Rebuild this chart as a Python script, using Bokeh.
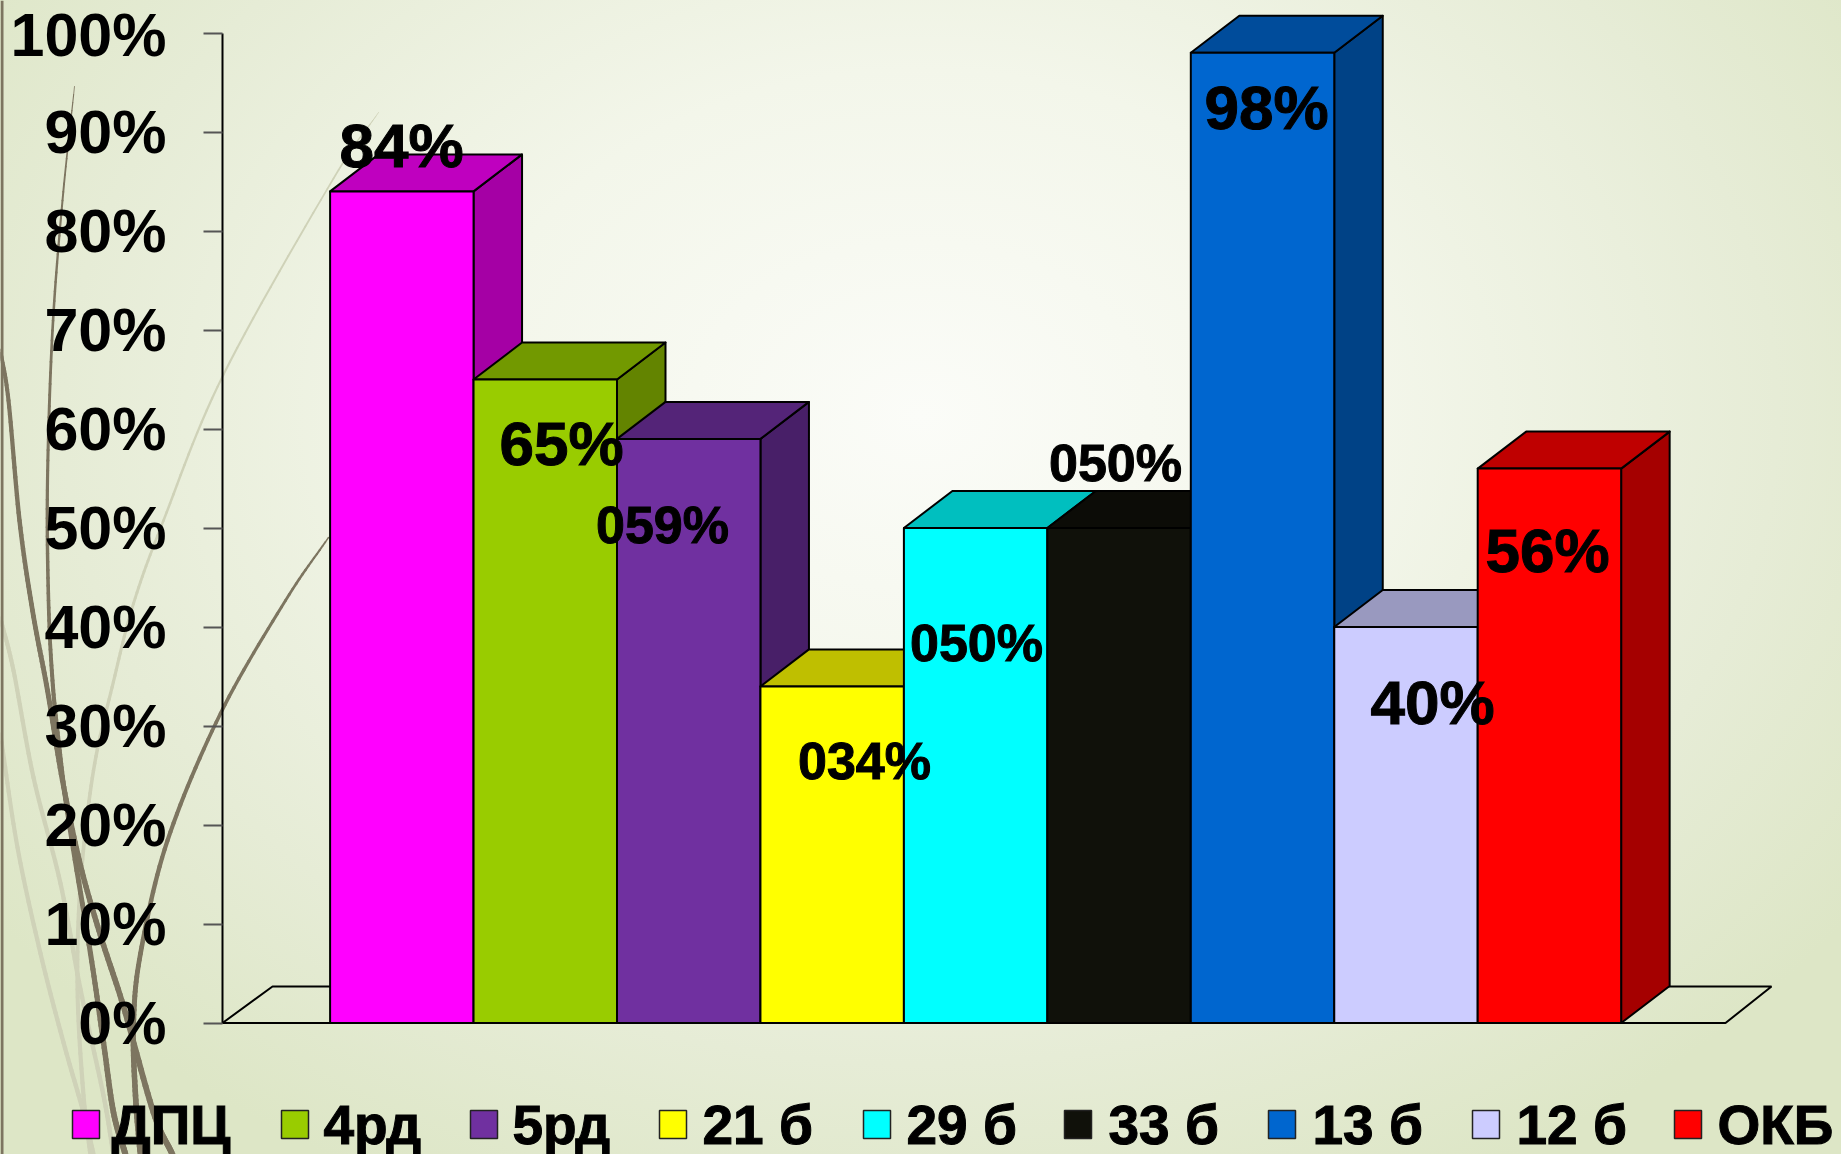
import numpy as np
from bokeh.core.properties import value
from bokeh.embed import file_html
from bokeh.models import FixedTicker, LinearAxis, PrintfTickFormatter, Range1d
from bokeh.plotting import figure
from bokeh.resources import INLINE

# ---- data ----
categories = ["ДПЦ", "4рд", "5рд", "21 б", "29 б", "33 б", "13 б", "12 б", "ОКБ"]
values = [84, 65, 59, 34, 50, 50, 98, 40, 56]
bar_labels = ["84%", "65%", "059%", "034%", "050%", "050%", "98%", "40%", "56%"]
y_ticks = [0, 10, 20, 30, 40, 50, 60, 70, 80, 90, 100]

# ---- styles ----
front_colors = ["#ff00ff", "#99cc00", "#7030a0", "#ffff00", "#00ffff", "#10110a", "#0066cf", "#ccccff", "#ff0000"]
label_sizes = [62, 62, 52, 52, 52, 52, 62, 62, 62]
label_x = [401, 561, 662, 864, 976, 1115, 1266, 1432, 1547]
label_y = [145, 443, 524, 760, 642, 462, 107, 702, 550]
swatch_x = [72, 281, 470, 659, 863, 1064, 1268, 1472, 1674]
legend_x = [111, 323, 512, 702, 906, 1108, 1312, 1516, 1717]

W, H = 1841, 1154
X0, BW = 329.6, 143.45      # px of first bar's left edge, px per bar
Y0, YU = 1022.5, 9.9        # px of 0%, px per 1%
DX, DY = 48.5 / BW, 37.0 / YU

p = figure(width=W, height=H, output_backend="svg", toolbar_location=None,
           x_range=Range1d(-X0 / BW, (W - X0) / BW),
           y_range=Range1d(-(H - Y0) / YU, Y0 / YU),
           min_border=0, outline_line_color=None,
           background_fill_alpha=0, border_fill_alpha=0,
           y_axis_location=None, x_axis_location=None,
           styles={"position": "fixed", "left": "0", "top": "0",
                   "background": "radial-gradient(ellipse 62% 75% at 50% 36%, #fbfcf8 0%, #f3f6ea 40%, #e6ecd6 75%, #dde6c6 100%)"})
p.grid.visible = False
p.extra_x_ranges["px"] = Range1d(0, W)
p.extra_y_ranges["px"] = Range1d(H, 0)


def smooth(pts, n=14):
    pts = np.array(pts, float)
    q = np.vstack([2 * pts[0] - pts[1], pts, 2 * pts[-1] - pts[-2]])
    out = []
    for i in range(1, len(q) - 2):
        a, b, c, d = q[i - 1], q[i], q[i + 1], q[i + 2]
        for t in np.linspace(0, 1, n, endpoint=False):
            out.append(0.5 * (2 * b + (c - a) * t + (2 * a - 5 * b + 4 * c - d) * t ** 2 + (3 * b - a - 3 * c + d) * t ** 3))
    out.append(q[-2])
    return np.array(out)


def grass(pts, color, w0, w1):
    s = smooth(pts)
    xs = [list(s[i:i + 2, 0]) for i in range(len(s) - 1)]
    ys = [list(s[i:i + 2, 1]) for i in range(len(s) - 1)]
    widths = list(w0 + (w1 - w0) * np.linspace(0, 1, len(xs)) ** 0.6)
    p.multi_line(xs, ys, line_color=color, line_width=widths, line_cap="round",
                 x_range_name="px", y_range_name="px")


BROWN, PALE = "#7d7560", "#cfd2b8"
pale_curves = [
    [(378, 112), (333, 178), (223, 374), (163, 520), (133, 603), (113, 681), (93, 770), (80, 883), (77, 989), (83, 1095), (90, 1154)],
    [(0, 618), (13, 670), (33, 777), (60, 883), (80, 989), (103, 1095), (113, 1154)],
    [(0, 734), (17, 847), (40, 953), (63, 1042), (83, 1112), (93, 1154)],
]
grass(pale_curves[0], PALE, 0.8, 4.5)
grass(pale_curves[1], PALE, 4, 4.5)
grass(pale_curves[2], PALE, 4, 4.5)
brown_curves = [
    [(74, 86), (62, 200), (52, 330), (47, 480), (48, 600), (52, 680), (58, 741), (67, 812), (90, 953), (103, 1042), (113, 1112), (125, 1154)],
    [(0, 350), (8, 400), (19, 520), (32, 610), (47, 690), (62, 780), (80, 865), (100, 935), (123, 1006), (153, 1112), (172, 1154)],
    [(328, 537), (285, 600), (220, 713), (167, 840), (140, 953), (133, 1024), (135, 1095), (140, 1154)],
]
grass(brown_curves[0], BROWN, 0.8, 6)
grass(brown_curves[1], BROWN, 3.5, 6)
grass(brown_curves[2], BROWN, 1.5, 6)
p.line([1.5, 1.5], [0, H], line_color=BROWN, line_width=3, x_range_name="px", y_range_name="px")

# floor of the 3-D chart
FLOOR = dict(line_color="#000000", line_width=2, x_range_name="px", y_range_name="px")
p.line([222, 272, 1771, 1725, 222], [1022.5, 986, 986, 1022.5, 1022.5], **FLOOR)


def shade(c, f):
    r, g, b = int(c[1:3], 16), int(c[3:5], 16), int(c[5:7], 16)
    return "#%02x%02x%02x" % (int(r * f), int(g * f), int(b * f))


# bars, painted left to right so each one hides the side of the previous
EDGE = dict(line_color="#000000", line_width=2, line_join="round")
for i, (v, c) in enumerate(zip(values, front_colors)):
    p.patch([i + 1, i + 1 + DX, i + 1 + DX, i + 1], [0, DY, v + DY, v], fill_color=shade(c, 0.65), **EDGE)
    p.patch([i, i + DX, i + 1 + DX, i + 1], [v, v + DY, v + DY, v], fill_color=shade(c, 0.75), **EDGE)
    p.quad(left=i, right=i + 1, bottom=0, top=v, fill_color=c, **EDGE)

# y axis
axis = LinearAxis(ticker=FixedTicker(ticks=y_ticks), formatter=PrintfTickFormatter(format="%d%%"),
                  fixed_location=(222 - X0) / BW, bounds=(0, 100),
                  axis_line_color="#000000", axis_line_width=2,
                  major_tick_line_color="#555555", major_tick_line_width=2,
                  major_tick_in=0, major_tick_out=19, minor_tick_line_color=None,
                  major_label_standoff=37, major_label_text_color="#000000",
                  major_label_text_font="Liberation Sans", major_label_text_font_style="bold",
                  major_label_text_font_size="61px")
p.add_layout(axis, "left")

# value labels
for x, y, t, s in zip(label_x, label_y, bar_labels, label_sizes):
    p.text([x], [y], text=[t], text_font=value("Liberation Sans"), text_font_style="bold",
           text_font_size=f"{s}px", text_color="#000000", outline_color="#000000",
           text_align="center", text_baseline="middle",
           x_range_name="px", y_range_name="px")

# legend
for sx, tx, c, t in zip(swatch_x, legend_x, front_colors, categories):
    p.quad(left=sx, right=sx + 27, top=1110, bottom=1138, fill_color=c, line_color="#222222", line_width=1.5,
           x_range_name="px", y_range_name="px")
    p.text([tx], [1124], text=[t], text_font=value("Liberation Sans"), text_font_style="bold",
           text_font_size="55px", text_color="#000000", outline_color="#000000",
           text_align="left", text_baseline="middle", x_range_name="px", y_range_name="px")

open("out.html", "w").write(file_html(p, INLINE))
